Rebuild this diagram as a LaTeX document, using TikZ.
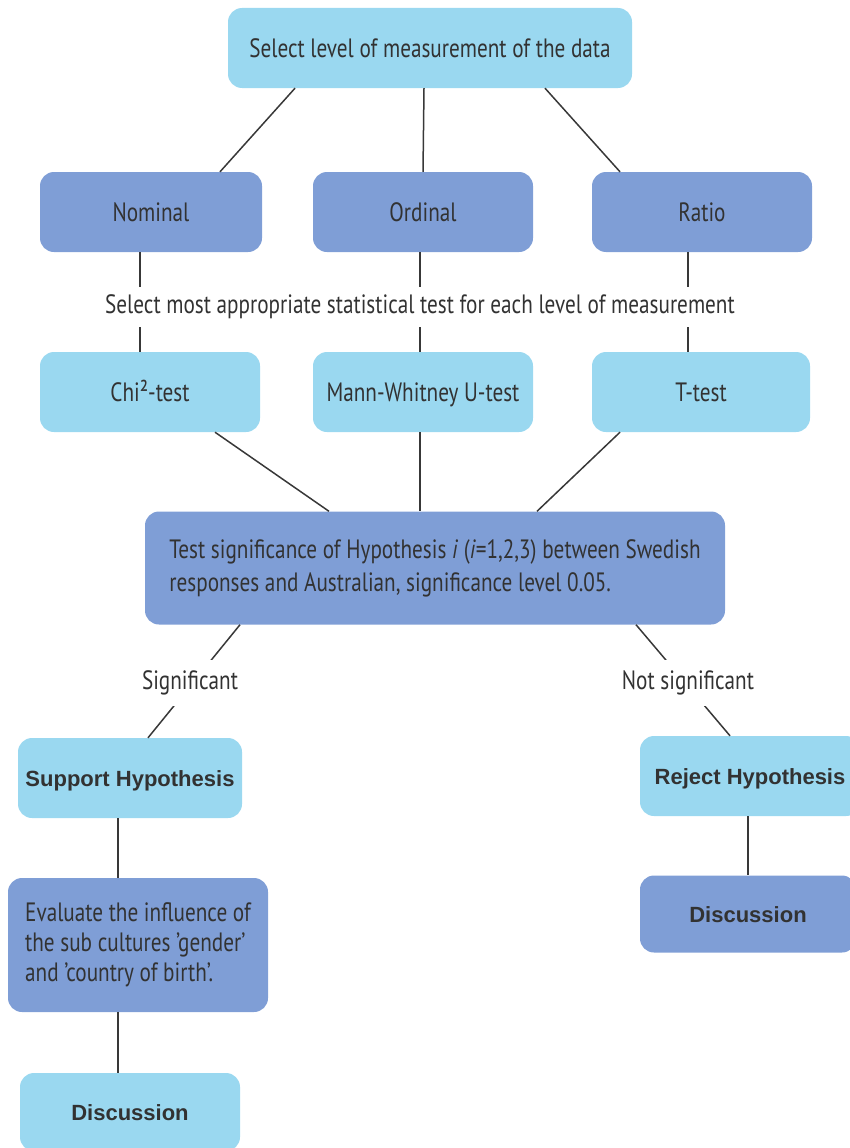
\documentclass[tikz,border=0pt]{standalone}
\usepackage{fontspec}
\setmainfont{Liberation Sans}
\newfontfamily\cond[FakeStretch=0.8]{PT Sans}
\definecolor{lb}{RGB}{154,216,240}
\definecolor{db}{RGB}{127,158,214}
\definecolor{txt}{RGB}{50,50,50}
\begin{document}
\begin{tikzpicture}[x=1pt,y=-1pt,
  box/.style={rounded corners=14pt, draw=none, text=txt, inner sep=0pt},
  light/.style={box, fill=lb},
  dark/.style={box, fill=db},
  cfont/.style={text height=18.5pt, text depth=0pt, font=\cond\fontsize{26.5}{30}\selectfont},
  bfont/.style={text height=16pt, text depth=0pt, font=\bfseries\fontsize{22}{26}\selectfont},
  ln/.style={draw=black!78, line width=1.5pt},
  lab/.style={fill=white, text=txt, inner sep=2pt, font=\cond\fontsize{26.5}{30}\selectfont}]
\useasboundingbox (0,0) rectangle (849,1148);
% boxes
\node[light, cfont, minimum width=404pt, minimum height=80pt] (top) at (430,48) {Select level of measurement of the data};
\node[dark, cfont, minimum width=222pt, minimum height=80pt] (nom) at (151,212) {Nominal};
\node[dark, cfont, minimum width=220pt, minimum height=80pt] (ord) at (423,212) {Ordinal};
\node[dark, cfont, minimum width=220pt, minimum height=80pt] (rat) at (702,212) {Ratio};
\node[light, cfont, minimum width=220pt, minimum height=80pt] (chi) at (150,392) {Chi²-test};
\node[light, cfont, minimum width=220pt, minimum height=80pt] (mw) at (423,392) {Mann-Whitney U-test};
\node[light, cfont, minimum width=218pt, minimum height=80pt] (tt) at (701,392) {T-test};
\node[dark, minimum width=580pt, minimum height=113pt, align=left, font=\cond\fontsize{26.5}{33}\selectfont] (sig) at (435,568) {Test significance of Hypothesis \textit{i} (\textit{i}=1,2,3) between Swedish\\responses and Australian, significance level 0.05.};
\node[light, bfont, minimum width=224pt, minimum height=80pt] (sup) at (130,778) {Support Hypothesis};
\node[light, bfont, minimum width=220pt, minimum height=80pt] (rej) at (750,776) {Reject Hypothesis};
\node[dark, minimum width=260pt, minimum height=134pt, align=left, font=\cond\fontsize{26.5}{30}\selectfont] (eva) at (138,945) {Evaluate the influence of\\the sub cultures ’gender’\\and ’country of birth’.};
\node[light, bfont, minimum width=220pt, minimum height=78pt] (d1) at (130,1112) {Discussion};
\node[dark, bfont, minimum width=216pt, minimum height=77pt] (d2) at (748,914) {Discussion};
% connectors
\draw[ln] ([xshift=-135pt]top.south) -- ([xshift=69pt]nom.north);
\draw[ln] ([xshift=-6pt]top.south) -- (ord.north);
\draw[ln] ([xshift=115pt]top.south) -- ([xshift=-82pt]rat.north);
\draw[ln] ([xshift=-11pt]nom.south) -- ([xshift=-10pt]chi.north);
\draw[ln] ([xshift=-3pt]ord.south) -- ([xshift=-3pt]mw.north);
\draw[ln] ([xshift=-14pt]rat.south) -- ([xshift=-13pt]tt.north);
\node[lab, minimum height=40pt] (sel) at (420,307) {Select most appropriate statistical test for each level of measurement};
\draw[ln] ([xshift=65pt]chi.south) -- ([xshift=-106pt]sig.north);
\draw[ln] ([xshift=-3pt]mw.south) -- ([xshift=-15pt]sig.north);
\draw[ln] ([xshift=-81pt]tt.south) -- ([xshift=102pt]sig.north);
\draw[ln] ([xshift=-195pt]sig.south) -- ([xshift=18pt]sup.north);
\node[lab, minimum height=46pt] (ls) at (190,683) {Significant};
\draw[ln] ([xshift=201pt]sig.south) -- ([xshift=-20pt]rej.north);
\node[lab, minimum height=46pt] (lns) at (688,683) {Not significant};
\draw[ln] ([xshift=-12pt]sup.south) -- ([xshift=-20pt]eva.north);
\draw[ln] ([xshift=-20pt]eva.south) -- ([xshift=-12pt]d1.north);
\draw[ln] ([xshift=-2pt]rej.south) -- ([xshift=0pt]d2.north);
\end{tikzpicture}
\end{document}
